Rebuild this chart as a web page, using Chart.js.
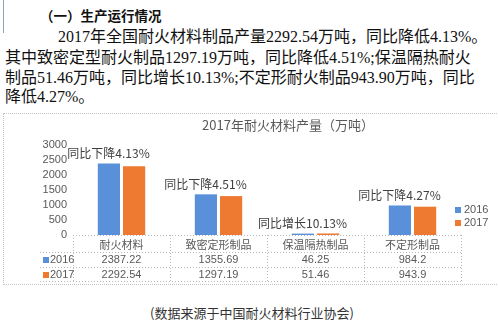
<!DOCTYPE html>
<html>
<head>
<meta charset="utf-8">
<title>2017年耐火材料产量</title>
<script src="https://cdn.jsdelivr.net/npm/chart.js@4.4.0/dist/chart.umd.min.js"></script>
<style>
  body {
    margin: 0;
    width: 498px;
    height: 322px;
    background: #fff;
    position: relative;
    overflow: hidden;
    font-family: "Liberation Serif", "Noto Sans CJK SC", serif;
    color: #111;
  }
  .ln {
    position: absolute;
    white-space: nowrap;
    font-size: 16px;
    line-height: 20px;
  }
  .head {
    font-family: "Noto Sans CJK SC", sans-serif;
    font-weight: bold;
    font-size: 13.5px;
  }
  .bar-mark {
    position: absolute;
    left: 3px;
    top: 0;
    width: 1px;
    height: 33px;
    background: #8fa3b8;
  }
  #box {
    position: absolute;
    left: 3px;
    top: 113px;
    width: 495px;
    height: 170px;
    border: 1px dotted #c4c4c4;
    border-right: none;
  }
  #note {
    position: absolute;
    left: 0;
    width: 504px;
    top: 304px;
    text-align: center;
    font-family: "Noto Sans CJK SC", sans-serif;
    font-size: 13px;
    line-height: 18px;
    color: #333;
  }
</style>
</head>
<body>
<div class="bar-mark"></div>
<div class="ln head" style="left:40px; top:5px;">（一）生产运行情况</div>
<div class="ln" style="left:58px; top:27px;">2017年全国耐火材料制品产量2292.54万吨，同比降低4.13%。</div>
<div class="ln" style="left:5px; top:48px;">其中致密定型耐火制品1297.19万吨，同比降低4.51%;保温隔热耐火</div>
<div class="ln" style="left:5px; top:68px;">制品51.46万吨，同比增长10.13%;不定形耐火制品943.90万吨，同比</div>
<div class="ln" style="left:5px; top:87px;">降低4.27%。</div>

<div id="box"><canvas id="chart" width="495" height="170"></canvas></div>
<div id="note">(数据来源于中国耐火材料行业协会)</div>

<script>
const categories = ['耐火材料', '致密定形制品', '保温隔热制品', '不定形制品'];
const years = ['2016', '2017'];
const output2016 = [2387.22, 1355.69, 46.25, 984.2];
const output2017 = [2292.54, 1297.19, 51.46, 943.9];
const changeNotes = ['同比下降4.13%', '同比下降4.51%', '同比增长10.13%', '同比下降4.27%'];
const yTicks = [0, 500, 1000, 1500, 2000, 2500, 3000];
const chartTitle = '2017年耐火材料产量（万吨）';

const colors = ['#5a8fda', '#ee7a32'];
const grey = '#595959';
const cjk = '"Noto Sans CJK SC", sans-serif';
const latin = '"Liberation Sans", "Noto Sans CJK SC", sans-serif';

// title, change notes, data table and legend are painted here
const extras = {
  id: 'extras',
  afterDraw(chart) {
    const ctx = chart.ctx;
    const x = chart.scales.x;
    const y = chart.scales.y;
    const area = chart.chartArea;
    const series = [output2016, output2017];

    ctx.save();
    ctx.textBaseline = 'middle';

    // title
    ctx.fillStyle = grey;
    ctx.font = '13px ' + cjk;
    ctx.textAlign = 'center';
    ctx.fillText(chartTitle, 284, 11);

    // year-on-year notes above each group
    ctx.fillStyle = '#404040';
    ctx.font = '12px ' + cjk;
    categories.forEach((c, i) => {
      const top = Math.min(y.getPixelForValue(output2016[i]), y.getPixelForValue(output2017[i]));
      ctx.fillText(changeNotes[i], x.getPixelForValue(i) - 13, top - 10);
    });

    // data table
    const step = (area.right - area.left) / categories.length;
    const rowTop = area.bottom;
    const rowH = [17, 15, 14];
    const keyLeft = 36;
    ctx.strokeStyle = '#b8b8b8';
    ctx.lineWidth = 1;
    ctx.setLineDash([1, 2]);
    ctx.beginPath();
    ctx.moveTo(area.left, rowTop + 0.5);
    ctx.lineTo(area.right, rowTop + 0.5);
    let yy = rowTop;
    rowH.forEach(h => {
      yy += h;
      ctx.moveTo(keyLeft, yy + 0.5);
      ctx.lineTo(area.right, yy + 0.5);
    });
    for (let i = 0; i <= categories.length; i++) {
      const vx = Math.round(area.left + step * i) + 0.5;
      ctx.moveTo(vx, rowTop);
      ctx.lineTo(vx, yy);
    }
    ctx.stroke();
    ctx.setLineDash([]);

    ctx.fillStyle = grey;
    ctx.textAlign = 'center';
    ctx.font = '11px ' + cjk;
    categories.forEach((c, i) => {
      ctx.fillText(c, x.getPixelForValue(i), rowTop + 10);
    });
    ctx.font = '11px ' + latin;
    series.forEach((vals, r) => {
      const cy = rowTop + rowH[0] + 8 + r * 14.5;
      vals.forEach((v, i) => {
        ctx.fillText(String(v), x.getPixelForValue(i), cy);
      });
    });

    // row keys
    ctx.textAlign = 'left';
    years.forEach((yr, r) => {
      const cy = rowTop + rowH[0] + 8 + r * 14.5;
      ctx.fillStyle = colors[r];
      ctx.fillRect(39, Math.round(cy - 3), 6, 6);
      ctx.fillStyle = grey;
      ctx.fillText(yr, 46, cy);
    });

    // legend on the right
    years.forEach((yr, r) => {
      const cy = 96 + r * 13;
      ctx.fillStyle = colors[r];
      ctx.fillRect(451, Math.round(cy - 3), 6, 6);
      ctx.fillStyle = grey;
      ctx.fillText(yr, 460, cy);
    });

    ctx.restore();
  }
};

new Chart(document.getElementById('chart'), {
  type: 'bar',
  data: {
    labels: categories,
    datasets: [
      { label: years[0], data: output2016, backgroundColor: colors[0] },
      { label: years[1], data: output2017, backgroundColor: colors[1] }
    ]
  },
  options: {
    responsive: false,
    animation: false,
    categoryPercentage: 0.52,
    barPercentage: 0.88,
    layout: { padding: { top: 31, right: 38, bottom: 49, left: 0 } },
    plugins: {
      legend: { display: false },
      tooltip: { enabled: false }
    },
    scales: {
      x: { display: false },
      y: {
        min: 0,
        max: 3000,
        afterBuildTicks: scale => { scale.ticks = yTicks.map(v => ({ value: v })); },
        afterFit: scale => { scale.width = 69; },
        grid: { display: false, drawTicks: false },
        border: { display: false },
        ticks: {
          autoSkip: false,
          padding: 6,
          color: grey,
          font: { family: latin, size: 11 },
          callback: v => String(v)
        }
      }
    }
  },
  plugins: [extras]
});
</script>
</body>
</html>
